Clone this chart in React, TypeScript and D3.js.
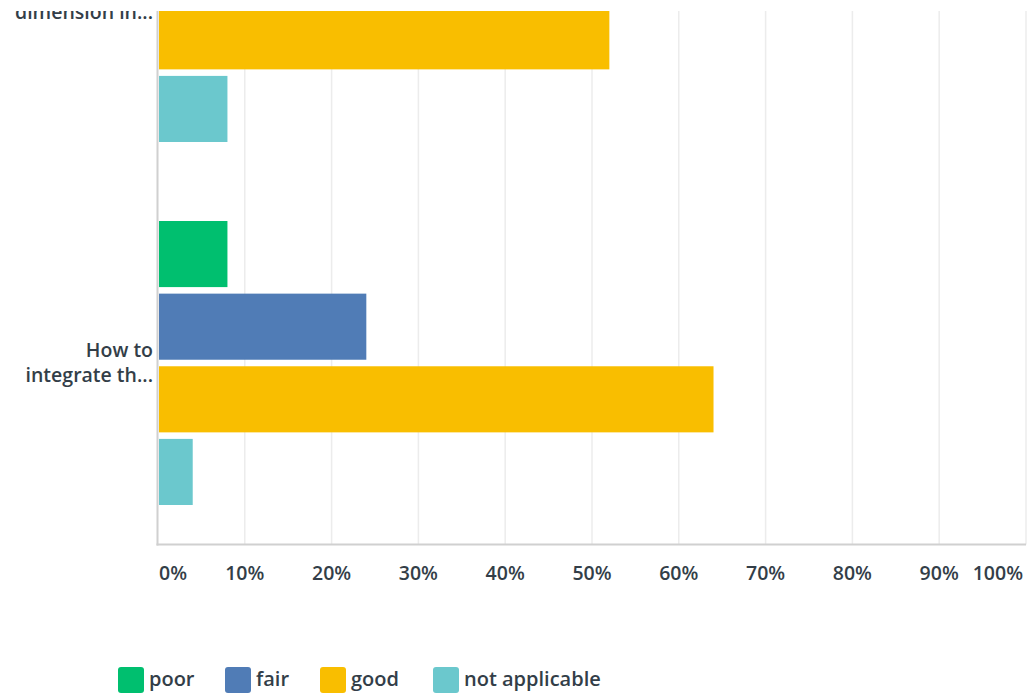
import React from "react";
import * as d3 from "d3";

const categories = ["dimension", "integrate"];
const categoryLabels: string[][] = [
  ["How to apply the", "dimension in..."],
  ["How to", "integrate th..."],
];
const seriesNames = ["poor", "fair", "good", "not applicable"];
const seriesColors = ["#00bf6f", "#507cb6", "#f9be00", "#6bc8cd"];
const values: number[][] = [
  [8, 32, 52, 8],
  [8, 24, 64, 4],
];
const xTicks = [0, 10, 20, 30, 40, 50, 60, 70, 80, 90, 100];

const W = 1028;
const H = 696;
const FONT = "'Open Sans', 'Noto Sans', sans-serif";
const TEXT = "#333e48";

export default function App() {
  const x = d3.scaleLinear().domain([0, 100]).range([158, 1026]);
  const y = d3.scaleBand<string>().domain(categories).range([-181.5, 544.5]).padding(0);
  const inner = d3
    .scaleBand<string>()
    .domain(seriesNames)
    .range([39.5, y.bandwidth() - 39.5])
    .paddingInner(0.09)
    .paddingOuter(0);
  const clipTop = 11;
  const axisY = 544.5;

  const legendX = [118, 225, 320, 433];

  return (
    <div style={{ position: "absolute", left: 0, top: 0, width: W, height: H, background: "#fff" }}>
      <svg width={W} height={H} style={{ display: "block" }} fontFamily={FONT}>
        <defs>
          <clipPath id="plotclip">
            <rect x={0} y={clipTop} width={W} height={H} />
          </clipPath>
        </defs>
        <g clipPath="url(#plotclip)">
          {xTicks.slice(1).map((t) => (
            <line key={t} x1={x(t)} x2={x(t)} y1={clipTop} y2={axisY} stroke="#ececec" strokeWidth={1.5} />
          ))}
          {categories.map((c, ci) =>
            seriesNames.map((s, si) => (
              <rect
                key={c + s}
                x={x(0) + 1}
                y={(y(c) as number) + (inner(s) as number)}
                width={x(values[ci][si]) - x(0) - 1}
                height={inner.bandwidth()}
                fill={seriesColors[si]}
              />
            ))
          )}
          {categories.map((c, ci) => {
            const cy = (y(c) as number) + y.bandwidth() / 2;
            return (
              <text key={c} textAnchor="end" fontSize={19.5} fontWeight={600} fill={TEXT}>
                {categoryLabels[ci].map((l, li) => (
                  <tspan key={li} x={153} y={cy - 6 + li * 25}>
                    {l}
                  </tspan>
                ))}
              </text>
            );
          })}
          <line x1={x(0) - 0.5} x2={x(0) - 0.5} y1={clipTop} y2={axisY + 1} stroke="#d0d0d0" strokeWidth={2} />
        </g>
        <line x1={x(0) - 1.5} x2={x(100)} y1={axisY} y2={axisY} stroke="#d0d0d0" strokeWidth={2} />
        {xTicks.map((t, i) => (
          <text
            key={t}
            x={i === 0 ? x(t) + 1 : i === xTicks.length - 1 ? x(t) - 3 : x(t)}
            y={580}
            textAnchor={i === 0 ? "start" : i === xTicks.length - 1 ? "end" : "middle"}
            fontSize={19.5}
            fontWeight={600}
            fill={TEXT}
          >
            {t + "%"}
          </text>
        ))}
        {seriesNames.map((s, i) => (
          <g key={s} transform={`translate(${legendX[i]},667)`}>
            <rect width={26} height={26} rx={3} fill={seriesColors[i]} />
            <text x={31} y={19} fontSize={20} fontWeight={600} fill={TEXT}>
              {s}
            </text>
          </g>
        ))}
      </svg>
    </div>
  );
}
